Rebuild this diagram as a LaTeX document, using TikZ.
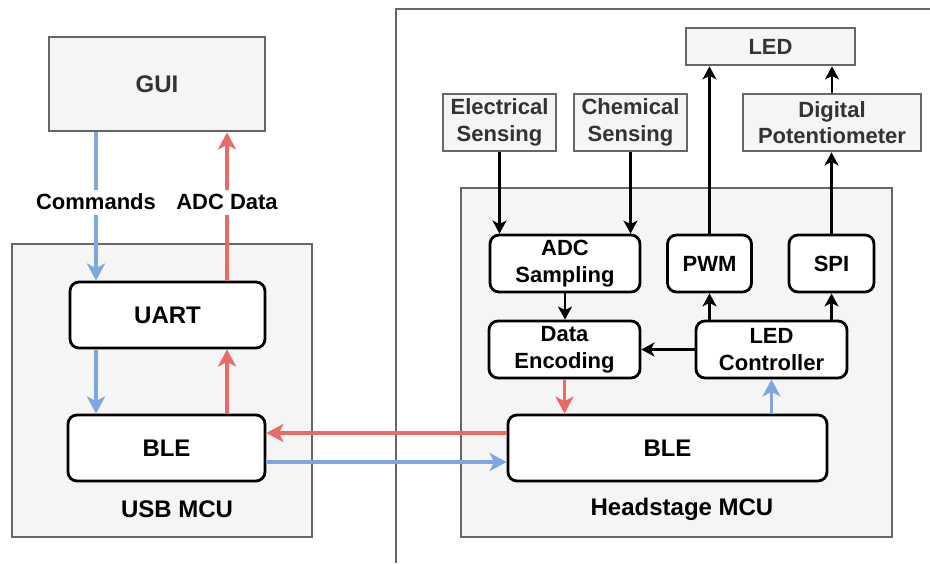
\documentclass[tikz,border=0pt]{standalone}
\usepackage{fontspec}
\setmainfont{Liberation Sans}
\usepackage{tikz}
\usetikzlibrary{arrows.meta,positioning,calc}
\definecolor{flowB}{HTML}{7EA6E0}
\definecolor{flowR}{HTML}{EA6B66}
\definecolor{edgeG}{HTML}{666666}
\definecolor{fillG}{HTML}{F5F5F5}
\definecolor{textG}{HTML}{333333}
\newcommand{\bigtxt}{\fontsize{24}{28}\selectfont\bfseries}
\newcommand{\smalltxt}{\fontsize{22}{26.7}\selectfont\bfseries}
\tikzset{
  sz/.style 2 args={minimum width=#1pt, minimum height=#2pt},
  unit/.style={rectangle, rounded corners=9pt, draw=black, line width=2.8pt,
               fill=white, align=center, inner sep=0pt},
  ext/.style={rectangle, draw=edgeG, line width=2.8pt, fill=fillG,
              text=textG, align=center, inner sep=0pt, font=\smalltxt},
  mcu/.style={rectangle, draw=edgeG, line width=2.5pt, fill=fillG, inner sep=0pt},
  blueflow/.style={-{Stealth[length=17pt, width=18pt, inset=4.5pt]}, line width=3.5pt, flowB},
  redflow/.style={-{Stealth[length=17pt, width=18pt, inset=4.5pt]}, line width=3.5pt, flowR},
  sig/.style={-{Stealth[length=13pt, width=14pt, inset=3.5pt]}, line width=2.8pt, black},
  flowlbl/.style={fill=white, text=black, inner sep=5pt, font=\smalltxt,
                  text height=15pt, text depth=0pt},
}
\begin{document}
\begin{tikzpicture}[x=1pt, y=-1pt]
  \useasboundingbox (0,0) rectangle (930,563);
  % outer frame of the headstage side
  \draw[edgeG, line width=2.5pt] (396,563) -- (396,9) -- (930,9);
  % containers
  \node[mcu, sz={300}{293}] (usb) at (162,390.5) {};
  \node[mcu, sz={431}{349}] (hs) at (676.5,362.5) {};
  \node[font=\bigtxt] (usblbl) at (177,509) {USB MCU};
  \node[font=\bigtxt] (hslbl) at (682,509) {Headstage MCU};
  % host side
  \node[ext, sz={216}{94}, font=\bigtxt] (gui) at (157,84) {GUI};
  \node[unit, sz={195}{66}, font=\bigtxt] (uart) at (167.5,315) {UART};
  \node[unit, sz={197}{66}, font=\bigtxt] (bleL) at (166.5,448) {BLE};
  % headstage blocks
  \node[unit, sz={150}{57}, font=\smalltxt] (adc) at (565,263.5) {ADC\\Sampling};
  \node[unit, sz={84}{57}, font=\smalltxt] (pwm) at (709.5,263.5) {PWM};
  \node[unit, sz={85}{57}, font=\smalltxt] (spi) at (831.5,263.5) {SPI};
  \node[unit, sz={151}{57}, font=\smalltxt] (enc) at (564.5,349.5) {Data\\Encoding};
  \node[unit, sz={151}{57}, font=\smalltxt] (ledctl) at (771.5,349.5) {LED\\Controller};
  \node[unit, sz={319}{66}, font=\bigtxt] (bleR) at (667.5,448) {BLE};
  % external parts
  \node[ext, sz={169}{37}] (led) at (770.5,46.5) {LED};
  \node[ext, sz={113}{57}] (elec) at (499.5,122.5) {Electrical\\Sensing};
  \node[ext, sz={113}{57}] (chem) at (630.5,122.5) {Chemical\\Sensing};
  \node[ext, sz={178}{57}] (pot) at (832,122.5) {Digital\\Potentiometer};
  % host data flow
  \coordinate (cmd) at (96,202);
  \coordinate (dat) at (227,202);
  \draw[blueflow] (gui.south -| cmd) -- node[flowlbl, pos=0.47] {Commands} (uart.north -| cmd);
  \draw[redflow] (uart.north -| dat) -- node[flowlbl, pos=0.53] {ADC Data} (gui.south -| dat);
  \draw[blueflow] (uart.south -| cmd) -- (bleL.north -| cmd);
  \draw[redflow] (bleL.north -| dat) -- (uart.south -| dat);
  % radio link
  \draw[redflow] ([yshift=15pt]bleR.west) -- ([yshift=15pt]bleL.east);
  \draw[blueflow] ([yshift=-14pt]bleL.east) -- ([yshift=-14pt]bleR.west);
  % headstage flow
  \draw[sig] (elec.south) -- (elec.south |- adc.north);
  \draw[sig] (chem.south) -- (chem.south |- adc.north);
  \draw[sig] (adc.south) -- (adc.south |- enc.north);
  \draw[sig] (ledctl.west) -- (enc.east);
  \draw[sig] (ledctl.north -| pwm) -- (pwm.south);
  \draw[sig] (ledctl.north -| spi) -- (spi.south);
  \draw[sig] (pwm.north) -- (pwm.north |- led.south);
  \draw[sig] (spi.north) -- (spi.north |- pot.south);
  \draw[sig] (pot.north) -- (pot.north |- led.south);
  \draw[redflow] (enc.south) -- (enc.south |- bleR.north);
  \draw[blueflow] (bleR.north -| ledctl) -- (ledctl.south);
\end{tikzpicture}
\end{document}
